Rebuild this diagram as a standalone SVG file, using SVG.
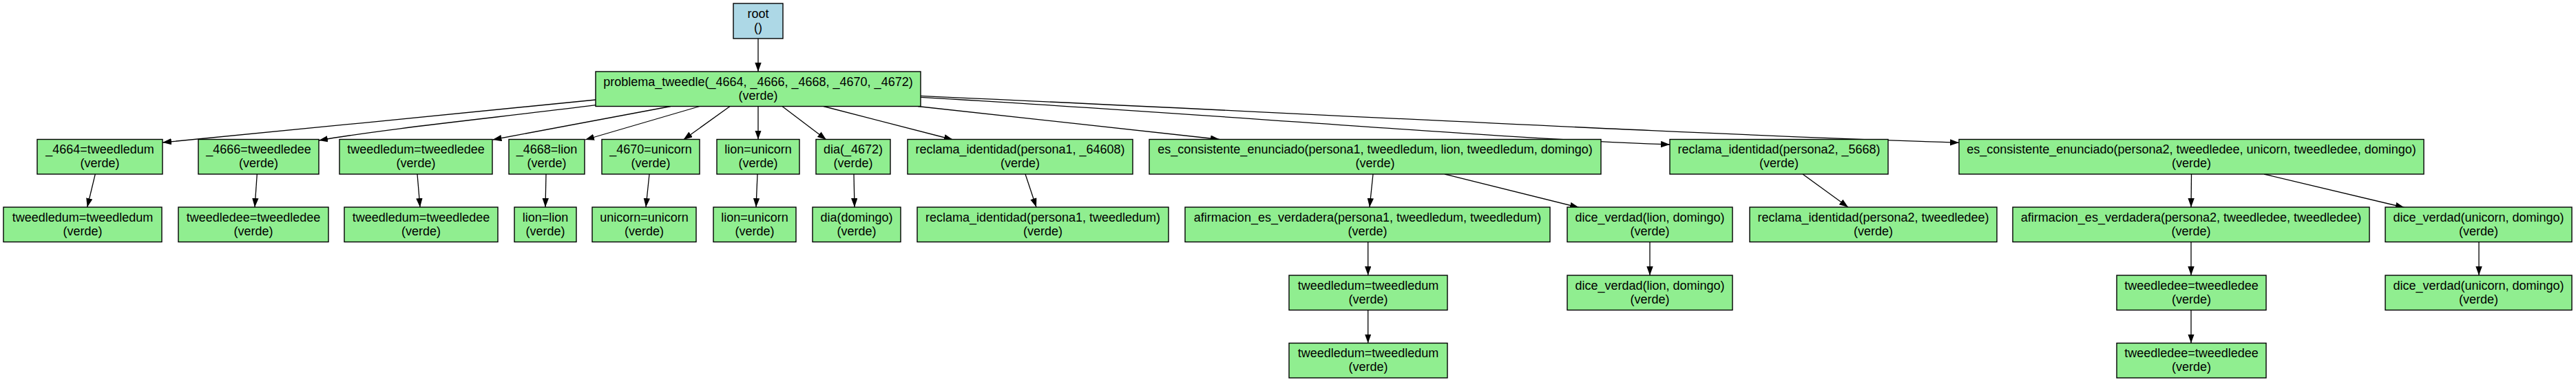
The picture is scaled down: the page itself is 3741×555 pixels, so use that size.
<svg xmlns="http://www.w3.org/2000/svg" width="3741" height="555" viewBox="0 0 3741 555">
<style>
.n rect{fill:#90ee90;stroke:#000;stroke-width:1.4}
.r rect{fill:#add8e6;stroke:#000;stroke-width:1.4}
text{font-family:"Liberation Sans",Arial,sans-serif;font-size:18px;fill:#000;text-anchor:middle}
.e path{fill:none;stroke:#000;stroke-width:1.3;marker-end:url(#ah)}
</style>
<defs>
<marker id="ah" markerUnits="userSpaceOnUse" markerWidth="14" markerHeight="10" refX="13" refY="4.7" orient="auto"><path d="M0,0 L13,4.7 L0,9.4 z" fill="#000"/></marker>
</defs>
<rect width="3741" height="555" fill="#fff"/>
<g class="e" id="edges">
<path d="M1101,56 L1101,104"/>
<path d="M865,145 C700,163 420,188 236,207"/>
<path d="M865,152.7 C720,171 560,187 463,204"/>
<path d="M974,154.5 L715.5,203"/>
<path d="M1016,154.5 L850,203"/>
<path d="M1060,154.5 L992.5,203"/>
<path d="M1101,154.5 L1101,202.5"/>
<path d="M1136,154.5 L1200,203"/>
<path d="M1196,154.5 L1384,203"/>
<path d="M1333,154.5 L1771,202.5"/>
<path d="M1337,141.3 C1800,168 2150,200 2425,210"/>
<path d="M1337,139.3 C1900,165 2450,195 2845,207.3"/>
<path d="M138.3,253 L126.7,301"/>
<path d="M373.3,253 L370,301"/>
<path d="M606,253 L610,301"/>
<path d="M793,253 L792,301"/>
<path d="M943,253 L938,301"/>
<path d="M1100,253 L1098,301"/>
<path d="M1240,253 L1241,301"/>
<path d="M1489,253 L1505,301"/>
<path d="M1994,253 L1989,301"/>
<path d="M2098,253 L2293,301.5"/>
<path d="M2618,253 L2684,301"/>
<path d="M3182.5,253 L3182,301"/>
<path d="M3288,253 L3491.7,301.5"/>
<path d="M1986.7,351.5 L1986.7,400"/>
<path d="M2396,351.5 L2396,400"/>
<path d="M3182,351.5 L3182,400"/>
<path d="M3600,351.5 L3600,400"/>
<path d="M1986.7,450.5 L1986.7,498.5"/>
<path d="M3182,450.5 L3182,498.5"/>
</g>
<g id="root" class="r"><rect x="1065" y="5" width="72" height="51"/><text><tspan x="1101" y="26">root</tspan><tspan x="1101" y="46">()</tspan></text></g>
<g id="problema" class="n"><rect x="865" y="104" width="472" height="50.5"/><text><tspan x="1101" y="124.7">problema_tweedle(_4664, _4666, _4668, _4670, _4672)</tspan><tspan x="1101" y="144.7">(verde)</tspan></text></g>
<g id="n1" class="n"><rect x="54" y="202.5" width="182" height="50.5"/><text><tspan x="145" y="223.2">_4664=tweedledum</tspan><tspan x="145" y="243.2">(verde)</tspan></text></g>
<g id="n2" class="n"><rect x="288" y="202.5" width="175" height="50.5"/><text><tspan x="375.5" y="223.2">_4666=tweedledee</tspan><tspan x="375.5" y="243.2">(verde)</tspan></text></g>
<g id="n3" class="n"><rect x="493" y="202.5" width="222" height="50.5"/><text><tspan x="604" y="223.2">tweedledum=tweedledee</tspan><tspan x="604" y="243.2">(verde)</tspan></text></g>
<g id="n4" class="n"><rect x="739" y="202.5" width="110" height="50.5"/><text><tspan x="794" y="223.2">_4668=lion</tspan><tspan x="794" y="243.2">(verde)</tspan></text></g>
<g id="n5" class="n"><rect x="874" y="202.5" width="142" height="50.5"/><text><tspan x="945" y="223.2">_4670=unicorn</tspan><tspan x="945" y="243.2">(verde)</tspan></text></g>
<g id="n6" class="n"><rect x="1041" y="202.5" width="120" height="50.5"/><text><tspan x="1101" y="223.2">lion=unicorn</tspan><tspan x="1101" y="243.2">(verde)</tspan></text></g>
<g id="n7" class="n"><rect x="1185" y="202.5" width="108" height="50.5"/><text><tspan x="1239" y="223.2">dia(_4672)</tspan><tspan x="1239" y="243.2">(verde)</tspan></text></g>
<g id="n8" class="n"><rect x="1318" y="202.5" width="327" height="50.5"/><text><tspan x="1481.5" y="223.2">reclama_identidad(persona1, _64608)</tspan><tspan x="1481.5" y="243.2">(verde)</tspan></text></g>
<g id="n9" class="n"><rect x="1669" y="202.5" width="656" height="50.5"/><text><tspan x="1997" y="223.2">es_consistente_enunciado(persona1, tweedledum, lion, tweedledum, domingo)</tspan><tspan x="1997" y="243.2">(verde)</tspan></text></g>
<g id="n10" class="n"><rect x="2425" y="202.5" width="317" height="50.5"/><text><tspan x="2583.5" y="223.2">reclama_identidad(persona2, _5668)</tspan><tspan x="2583.5" y="243.2">(verde)</tspan></text></g>
<g id="n11" class="n"><rect x="2845" y="202.5" width="675" height="50.5"/><text><tspan x="3182.5" y="223.2">es_consistente_enunciado(persona2, tweedledee, unicorn, tweedledee, domingo)</tspan><tspan x="3182.5" y="243.2">(verde)</tspan></text></g>
<g id="m1" class="n"><rect x="5" y="301" width="230" height="50.5"/><text><tspan x="120" y="321.7">tweedledum=tweedledum</tspan><tspan x="120" y="341.7">(verde)</tspan></text></g>
<g id="m2" class="n"><rect x="259" y="301" width="218" height="50.5"/><text><tspan x="368" y="321.7">tweedledee=tweedledee</tspan><tspan x="368" y="341.7">(verde)</tspan></text></g>
<g id="m3" class="n"><rect x="500" y="301" width="223" height="50.5"/><text><tspan x="611.5" y="321.7">tweedledum=tweedledee</tspan><tspan x="611.5" y="341.7">(verde)</tspan></text></g>
<g id="m4" class="n"><rect x="747" y="301" width="90" height="50.5"/><text><tspan x="792" y="321.7">lion=lion</tspan><tspan x="792" y="341.7">(verde)</tspan></text></g>
<g id="m5" class="n"><rect x="860" y="301" width="151" height="50.5"/><text><tspan x="935.5" y="321.7">unicorn=unicorn</tspan><tspan x="935.5" y="341.7">(verde)</tspan></text></g>
<g id="m6" class="n"><rect x="1036" y="301" width="120" height="50.5"/><text><tspan x="1096" y="321.7">lion=unicorn</tspan><tspan x="1096" y="341.7">(verde)</tspan></text></g>
<g id="m7" class="n"><rect x="1180" y="301" width="128" height="50.5"/><text><tspan x="1244" y="321.7">dia(domingo)</tspan><tspan x="1244" y="341.7">(verde)</tspan></text></g>
<g id="m8" class="n"><rect x="1332" y="301" width="365" height="50.5"/><text><tspan x="1514.5" y="321.7">reclama_identidad(persona1, tweedledum)</tspan><tspan x="1514.5" y="341.7">(verde)</tspan></text></g>
<g id="m9" class="n"><rect x="1721" y="301" width="530" height="50.5"/><text><tspan x="1986" y="321.7">afirmacion_es_verdadera(persona1, tweedledum, tweedledum)</tspan><tspan x="1986" y="341.7">(verde)</tspan></text></g>
<g id="m10" class="n"><rect x="2276" y="301" width="240" height="50.5"/><text><tspan x="2396" y="321.7">dice_verdad(lion, domingo)</tspan><tspan x="2396" y="341.7">(verde)</tspan></text></g>
<g id="m11" class="n"><rect x="2541" y="301" width="359" height="50.5"/><text><tspan x="2720.5" y="321.7">reclama_identidad(persona2, tweedledee)</tspan><tspan x="2720.5" y="341.7">(verde)</tspan></text></g>
<g id="m12" class="n"><rect x="2923" y="301" width="518" height="50.5"/><text><tspan x="3182" y="321.7">afirmacion_es_verdadera(persona2, tweedledee, tweedledee)</tspan><tspan x="3182" y="341.7">(verde)</tspan></text></g>
<g id="m13" class="n"><rect x="3464" y="301" width="271" height="50.5"/><text><tspan x="3599.5" y="321.7">dice_verdad(unicorn, domingo)</tspan><tspan x="3599.5" y="341.7">(verde)</tspan></text></g>
<g id="p1" class="n"><rect x="1872" y="400" width="230" height="50.5"/><text><tspan x="1987" y="420.7">tweedledum=tweedledum</tspan><tspan x="1987" y="440.7">(verde)</tspan></text></g>
<g id="p2" class="n"><rect x="2276" y="400" width="240" height="50.5"/><text><tspan x="2396" y="420.7">dice_verdad(lion, domingo)</tspan><tspan x="2396" y="440.7">(verde)</tspan></text></g>
<g id="p3" class="n"><rect x="3074" y="400" width="217" height="50.5"/><text><tspan x="3182.5" y="420.7">tweedledee=tweedledee</tspan><tspan x="3182.5" y="440.7">(verde)</tspan></text></g>
<g id="p4" class="n"><rect x="3464" y="400" width="271" height="50.5"/><text><tspan x="3599.5" y="420.7">dice_verdad(unicorn, domingo)</tspan><tspan x="3599.5" y="440.7">(verde)</tspan></text></g>
<g id="q1" class="n"><rect x="1872" y="498.5" width="230" height="50.5"/><text><tspan x="1987" y="519.2">tweedledum=tweedledum</tspan><tspan x="1987" y="539.2">(verde)</tspan></text></g>
<g id="q2" class="n"><rect x="3074" y="498.5" width="217" height="50.5"/><text><tspan x="3182.5" y="519.2">tweedledee=tweedledee</tspan><tspan x="3182.5" y="539.2">(verde)</tspan></text></g>
</svg>
